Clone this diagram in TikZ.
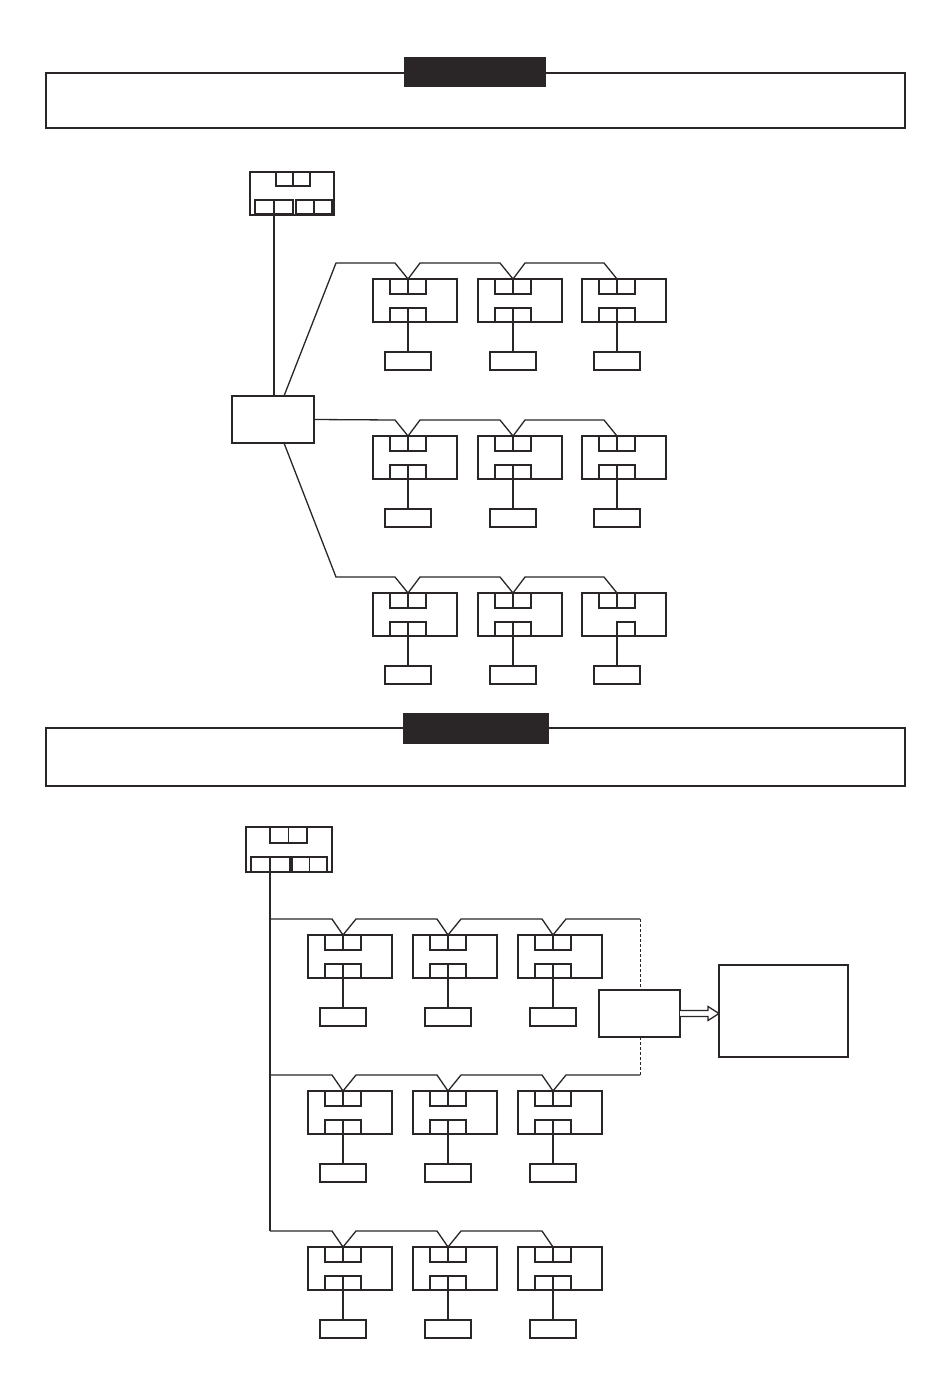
\documentclass[tikz,border=0pt]{standalone}
\usetikzlibrary{calc}
\definecolor{ink}{HTML}{2A2627}
\tikzset{
  ln/.style={line width=1.3pt, draw=ink},
  box/.style={ln, rectangle, inner sep=0pt, outer sep=0pt},
  devbox/.style={box, minimum width=84pt, minimum height=43pt},
  inbox/.style={box, minimum width=36pt, minimum height=14pt},
  sbox/.style={box, minimum width=46pt, minimum height=18pt},
  frame/.style={rectangle, draw=ink, line width=2.2pt, inner sep=0pt},
  tag/.style={rectangle, fill=ink, draw=ink, inner sep=0pt},
  dashedline/.style={ln, line width=1pt, dash pattern=on 3pt off 2pt},
}
% device: name, divider x, top y
\newcommand\dev[3]{%
  \node[devbox] (#1) at (#2+7,#3+21.5) {};
  \node[inbox, minimum height=15pt] (#1t) at (#2,#3+7.5) {};
  \draw[ln] (#1t.north) -- (#1t.south);
  \node[inbox] (#1b) at (#2,#3+36) {};
  \node[sbox] (#1s) at (#2,#3+82) {};
  \draw[ln] (#1b.north) -- (#1s.north);
}
\newcommand\devh[3]{%
  \node[devbox] (#1) at (#2+7,#3+21.5) {};
  \node[inbox, minimum height=15pt] (#1t) at (#2,#3+7.5) {};
  \draw[ln] (#1t.north) -- (#1t.south);
  \node[inbox, minimum width=18pt] (#1b) at (#2+9,#3+36) {};
  \node[sbox] (#1s) at (#2,#3+82) {};
  \draw[ln] (#1b.north west) -- (#1s.north);
}
\begin{document}
\begin{tikzpicture}[x=1pt,y=-1pt]
\useasboundingbox (0,0) rectangle (950,1379);
\fill[white] (0,0) rectangle (950,1379);

% ===== top section =====
\node[frame, minimum width=859pt, minimum height=55pt] (f1) at (475.5,100.5) {};
\node[tag, minimum width=141pt, minimum height=29pt] (t1) at (474.5,71.5) {};

% hub 1
\node[box, minimum width=84pt, minimum height=43pt] (h1) at (292,193.5) {};
\node[box, minimum width=34pt, minimum height=14pt] (h1t) at (293,179) {};
\draw[ln] (h1t.north) -- (h1t.south);
\node[box, minimum width=38pt, minimum height=14pt] (h1bl) at (274,207) {};
\node[box, minimum width=36pt, minimum height=14pt] (h1br) at (314,207) {};
\draw[ln] (h1br.north) -- (h1br.south);

% controller
\node[box, minimum width=82pt, minimum height=47pt] (ctl) at (273,419.5) {};
\draw[ln] (h1bl.north) -- (h1bl.south |- ctl.north);

% devices
\dev{a11}{408}{279}
\dev{a12}{513}{279}
\dev{a13}{617}{279}
\dev{a21}{408}{436}
\dev{a22}{513}{436}
\dev{a23}{617}{436}
\dev{a31}{408}{593}
\dev{a32}{513}{593}
\devh{a33}{617}{593}

% buses
\draw[ln] ([xshift=11pt]ctl.north) -- (336,263) -- ($(a11t.north)+(-13,-16)$) -- (a11t.north) -- ($(a11t.north)+(12,-16)$)
  -- ($(a12t.north)+(-13,-16)$) -- (a12t.north) -- ($(a12t.north)+(12,-16)$)
  -- ($(a13t.north)+(-13,-16)$) -- (a13t.north);
\draw[ln] (ctl.east) -- ($(a21t.north)+(-13,-16)$) -- (a21t.north) -- ($(a21t.north)+(12,-16)$)
  -- ($(a22t.north)+(-13,-16)$) -- (a22t.north) -- ($(a22t.north)+(12,-16)$)
  -- ($(a23t.north)+(-13,-16)$) -- (a23t.north);
\draw[ln] ([xshift=11pt]ctl.south) -- (336,577) -- ($(a31t.north)+(-13,-16)$) -- (a31t.north) -- ($(a31t.north)+(12,-16)$)
  -- ($(a32t.north)+(-13,-16)$) -- (a32t.north) -- ($(a32t.north)+(12,-16)$)
  -- ($(a33t.north)+(-13,-16)$) -- (a33t.north);

% ===== bottom section =====
\node[frame, minimum width=859pt, minimum height=58pt] (f2) at (475.5,757) {};
\node[tag, minimum width=145pt, minimum height=30pt] (t2) at (475.5,728) {};

% hub 2
\node[box, minimum width=86pt, minimum height=45pt] (h2) at (289,849.5) {};
\node[box, minimum width=37pt, minimum height=16pt] (h2t) at (288.5,835) {};
\draw[ln] (h2t.north) -- (h2t.south);
\node[box, minimum width=39pt, minimum height=15pt] (h2bl) at (270.5,864.5) {};
\node[box, minimum width=35pt, minimum height=15pt] (h2br) at (309.5,864.5) {};
\draw[ln] (h2br.north) -- (h2br.south);

\coordinate (j1) at (270,919);
\coordinate (j2) at (270,1075);
\coordinate (j3) at (270,1231);
\draw[ln] (h2bl.north -| j1) -- (j3);

\dev{b11}{343}{935}
\dev{b12}{448}{935}
\dev{b13}{553}{935}
\dev{b21}{343}{1091}
\dev{b22}{448}{1091}
\dev{b23}{553}{1091}
\dev{b31}{343}{1247}
\dev{b32}{448}{1247}
\dev{b33}{553}{1247}

% gateway and terminal
\node[box, minimum width=81pt, minimum height=47pt] (gw) at (639.5,1013.5) {};
\node[box, minimum width=129pt, minimum height=92pt] (big) at (783.5,1011) {};

\coordinate (e1) at (640,919);
\coordinate (e2) at (640,1075);

\draw[ln] (j1) -- ($(b11t.north)+(-11,-16)$) -- (b11t.north) -- ($(b11t.north)+(13,-16)$)
  -- ($(b12t.north)+(-11,-16)$) -- (b12t.north) -- ($(b12t.north)+(13,-16)$)
  -- ($(b13t.north)+(-11,-16)$) -- (b13t.north) -- ($(b13t.north)+(13,-16)$) -- (e1);
\draw[ln] (j2) -- ($(b21t.north)+(-11,-16)$) -- (b21t.north) -- ($(b21t.north)+(13,-16)$)
  -- ($(b22t.north)+(-11,-16)$) -- (b22t.north) -- ($(b22t.north)+(13,-16)$)
  -- ($(b23t.north)+(-11,-16)$) -- (b23t.north) -- ($(b23t.north)+(13,-16)$) -- (e2);
\draw[ln] (j3) -- ($(b31t.north)+(-11,-16)$) -- (b31t.north) -- ($(b31t.north)+(13,-16)$)
  -- ($(b32t.north)+(-11,-16)$) -- (b32t.north) -- ($(b32t.north)+(13,-16)$)
  -- ($(b33t.north)+(-11,-16)$) -- (b33t.north);

\draw[dashedline] (e1) -- (e1 |- gw.north);
\draw[dashedline] (e2 |- gw.south) -- (e2);

% hollow arrow
\draw[ln, fill=white, line join=miter] ([yshift=3pt]gw.east) -- ($(gw.east)+(28,-3)$) -- ($(gw.east)+(28,-7)$)
  -- (big.west |- gw.east) -- ($(gw.east)+(28,7)$) -- ($(gw.east)+(28,3)$) -- ([yshift=-3pt]gw.east);
\end{tikzpicture}
\end{document}
